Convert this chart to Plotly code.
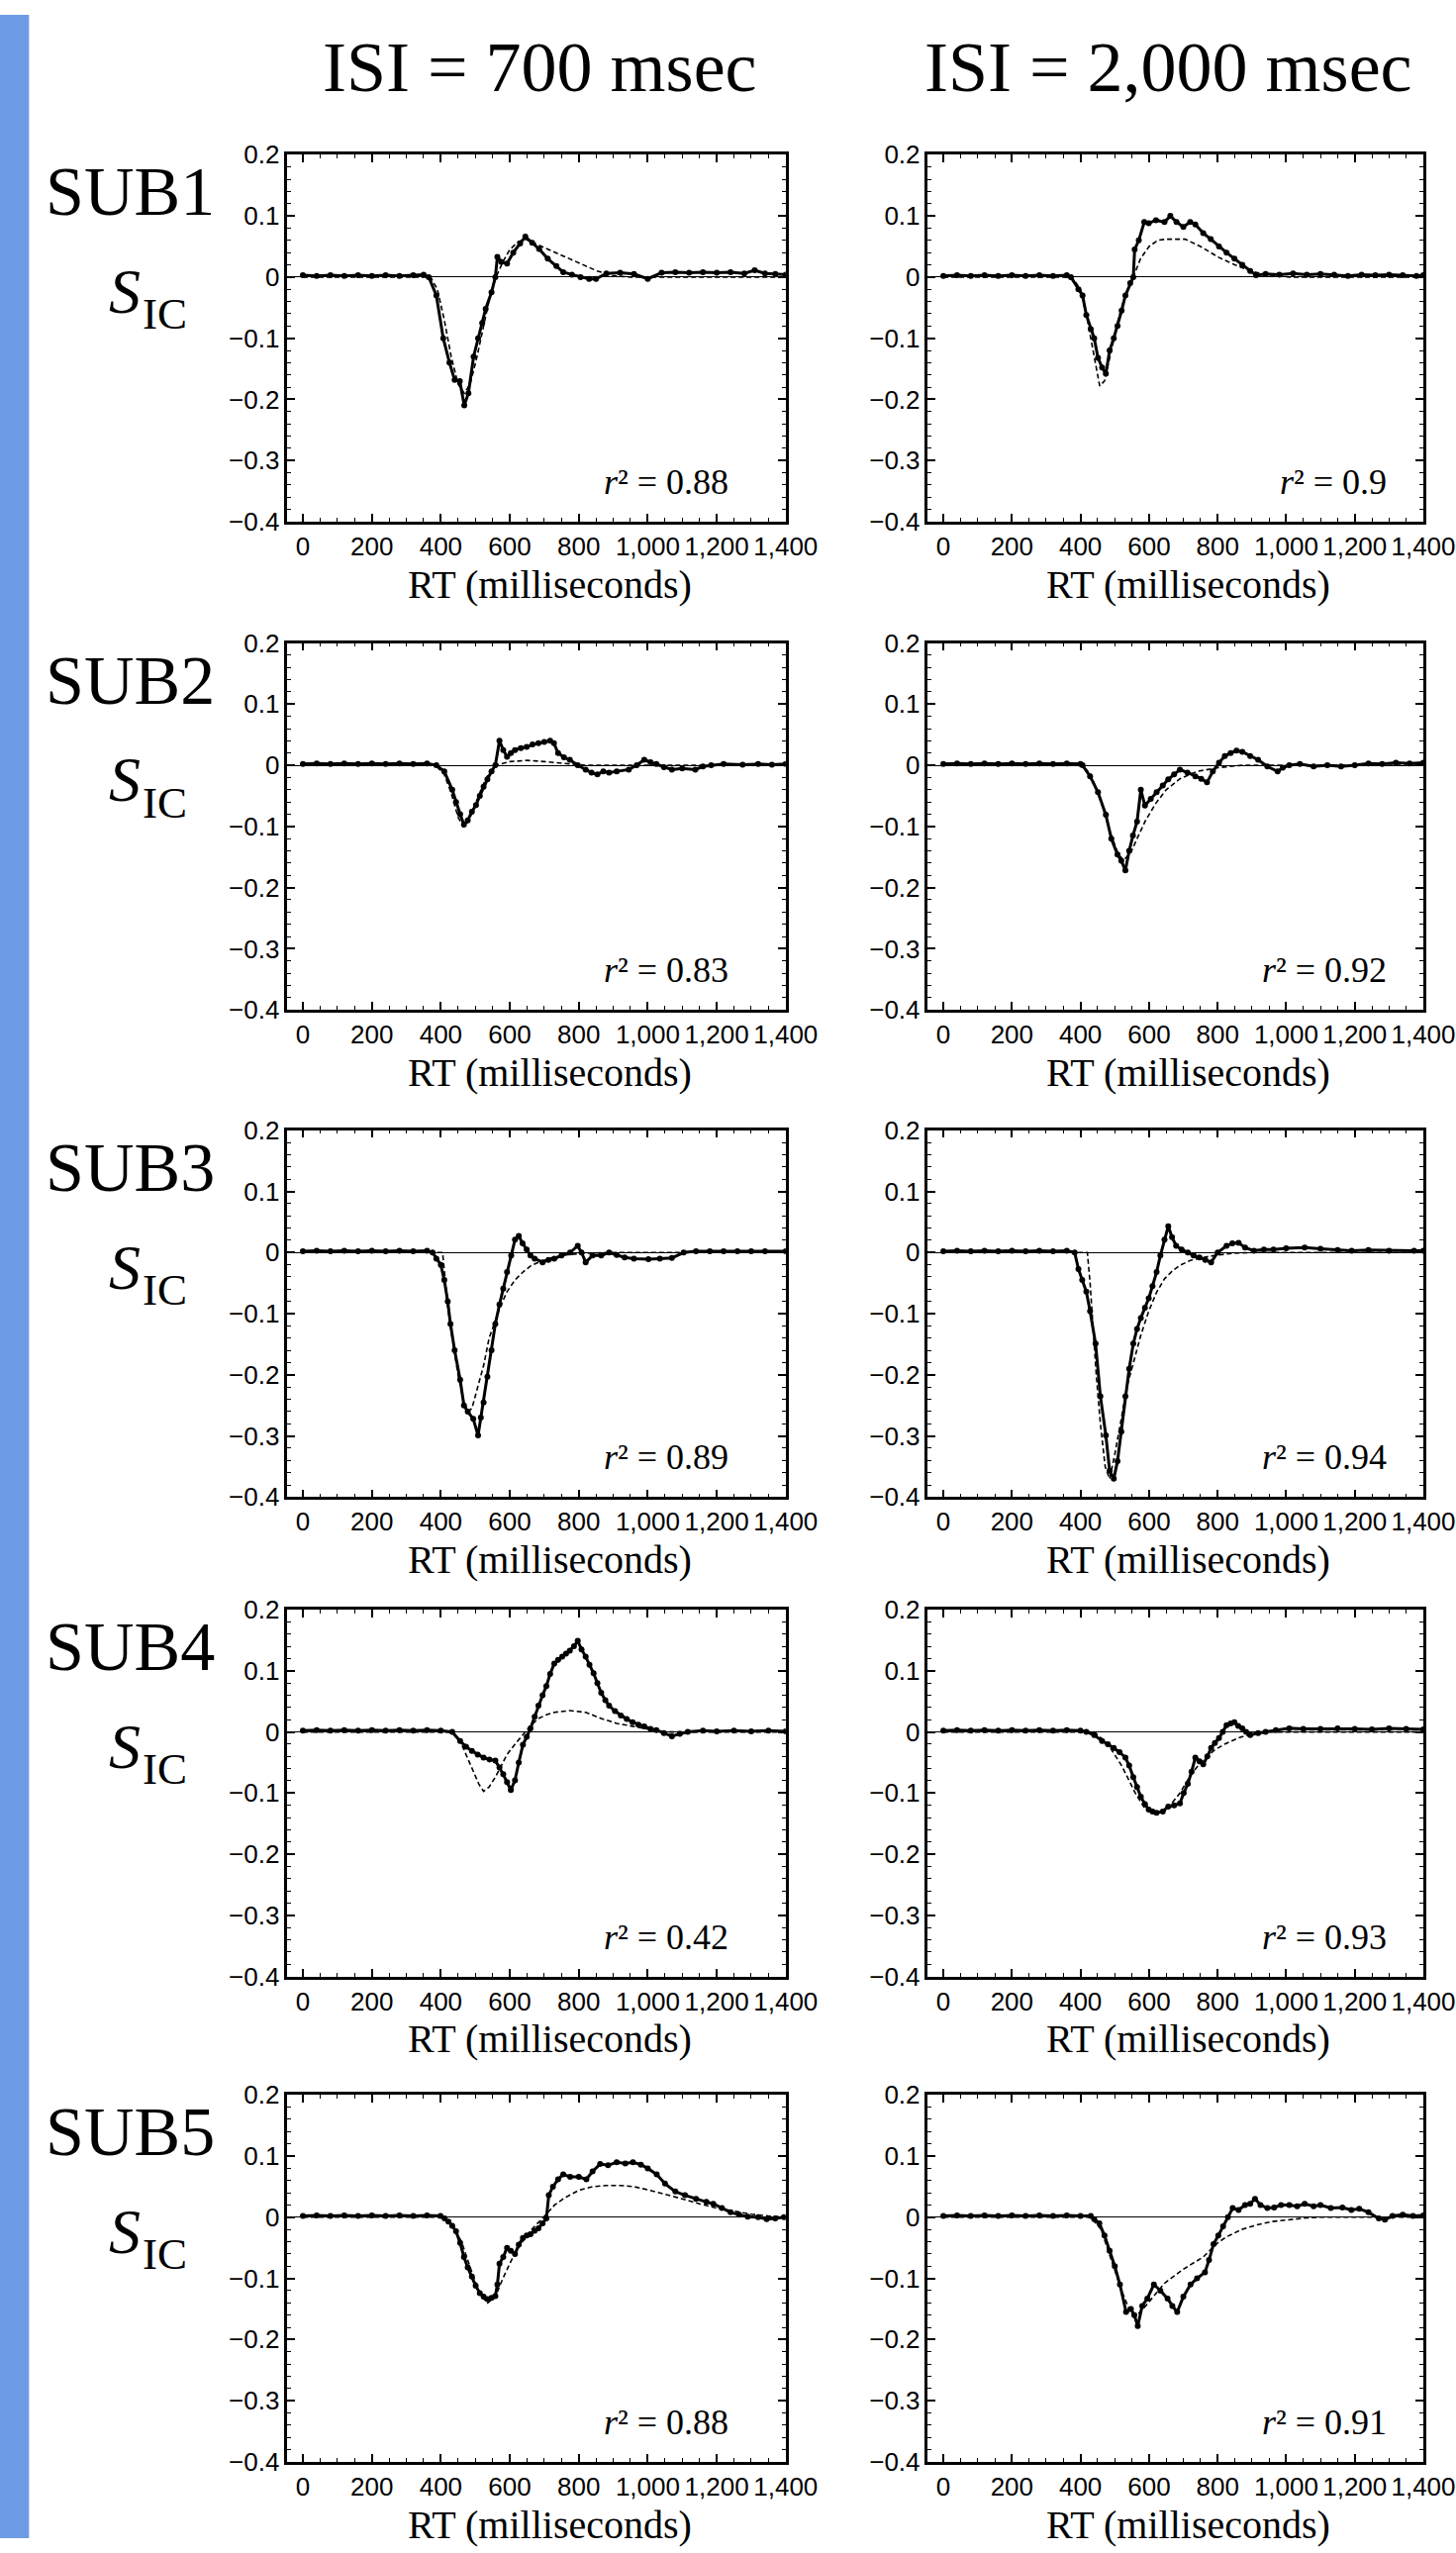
import plotly.graph_objects as go

# ---------------- data (RT in ms, S_IC values) ----------------
SUBJECTS = ["SUB1", "SUB2", "SUB3", "SUB4", "SUB5"]
ISI_TITLES = ["ISI = 700 msec", "ISI = 2,000 msec"]
R2_700 = ["0.88", "0.83", "0.89", "0.42", "0.88"]
R2_2000 = ["0.9", "0.92", "0.94", "0.93", "0.91"]
X_TICKS = [0, 200, 400, 600, 800, 1000, 1200, 1400]
X_TICK_TEXT = ["0", "200", "400", "600", "800", "1,000", "1,200", "1,400"]
Y_TICKS = [-0.4, -0.3, -0.2, -0.1, 0, 0.1, 0.2]
Y_TICK_TEXT = ["\u22120.4", "\u22120.3", "\u22120.2", "\u22120.1", "0", "0.1", "0.2"]

SUB1_700_OBS = [(0,.003),(40,.002),(80,.003),(120,.002),(160,.003),(200,.002),(240,.003),(280,.002),(320,.003),(350,.004),(365,0),(387,-.03),(407,-.1),(425,-.14),(440,-.168),(455,-.17),(468,-.21),(480,-.19),(495,-.13),(508,-.1),(520,-.075),(530,-.052),(547,-.025),(558,0),(564,.033),(575,.025),(592,.022),(610,.04),(630,.055),(645,.066),(665,.056),(685,.046),(710,.03),(735,.018),(755,.008),(780,.004),(805,0),(830,-.003),(850,-.003),(880,.006),(920,.007),(960,.005),(1000,-.003),(1040,.007),(1080,.008),(1120,.007),(1160,.008),(1200,.007),(1240,.008),(1280,.006),(1310,.011),(1340,.006),(1370,.005),(1400,.004)]
SUB1_700_FIT = [(0,0),(370,0),(390,-.02),(410,-.07),(430,-.13),(450,-.175),(468,-.19),(485,-.175),(505,-.13),(525,-.075),(545,-.025),(560,0),(580,.025),(600,.045),(625,.058),(645,.062),(700,.048),(760,.033),(820,.018),(853,.01),(900,.002),(950,0),(1400,0)]

SUB1_2000_OBS = [(0,.002),(40,.003),(80,.002),(120,.003),(160,.002),(200,.003),(240,.002),(280,.003),(320,.002),(360,.003),(372,0),(394,-.02),(406,-.03),(417,-.062),(430,-.085),(440,-.1),(451,-.132),(463,-.148),(474,-.158),(485,-.12),(497,-.1),(508,-.08),(520,-.055),(531,-.03),(545,-.01),(554,0),(558,.045),(570,.06),(586,.09),(599,.088),(620,.093),(645,.09),(662,.1),(680,.09),(700,.082),(720,.09),(735,.086),(758,.072),(780,.062),(804,.05),(826,.04),(849,.03),(872,.02),(895,.01),(912,.003),(940,.005),(980,.004),(1020,.006),(1060,.004),(1100,.005),(1140,.004),(1180,.002),(1220,.004),(1260,.003),(1300,.004),(1340,.003),(1380,.002),(1400,.003)]
SUB1_2000_FIT = [(0,0),(375,0),(400,-.02),(420,-.07),(440,-.13),(456,-.178),(470,-.17),(490,-.12),(510,-.07),(530,-.03),(554,0),(575,.03),(600,.05),(625,.06),(650,.062),(705,.062),(750,.05),(804,.032),(850,.02),(895,.01),(950,.003),(1010,0),(1400,0)]

SUB2_700_OBS = [(0,.002),(40,.003),(80,.002),(120,.003),(160,.002),(200,.003),(240,.002),(280,.003),(320,.002),(360,.003),(387,0),(410,-.01),(433,-.04),(444,-.06),(456,-.08),(467,-.097),(478,-.09),(490,-.076),(502,-.065),(513,-.05),(524,-.035),(535,-.023),(547,-.01),(558,0),(570,.04),(581,.025),(592,.014),(603,.02),(615,.025),(632,.028),(649,.03),(666,.034),(683,.036),(700,.038),(717,.04),(728,.036),(740,.02),(757,.013),(774,.009),(797,0),(820,-.007),(837,-.012),(854,-.015),(871,-.01),(888,-.012),(910,-.01),(945,-.007),(968,0),(990,.009),(1008,.005),(1025,.002),(1047,-.003),(1070,-.007),(1100,-.005),(1138,-.007),(1160,-.002),(1184,0),(1220,.002),(1275,.001),(1320,.002),(1360,.001),(1400,.002)]
SUB2_700_FIT = [(0,0),(385,0),(410,-.015),(430,-.045),(450,-.085),(465,-.1),(480,-.092),(500,-.065),(520,-.035),(540,-.012),(560,0),(600,.006),(650,.008),(700,.006),(760,.003),(820,0),(1400,0)]

SUB2_2000_OBS = [(0,.002),(40,.003),(80,.002),(120,.003),(160,.002),(200,.003),(240,.002),(280,.003),(320,.002),(360,.003),(400,.002),(406,0),(428,-.018),(451,-.044),(474,-.081),(490,-.12),(508,-.146),(519,-.156),(531,-.172),(542,-.14),(553,-.115),(565,-.092),(576,-.04),(588,-.066),(605,-.055),(622,-.044),(640,-.033),(656,-.023),(673,-.015),(690,-.007),(712,-.012),(735,-.018),(752,-.022),(769,-.028),(786,-.01),(804,.004),(821,.015),(838,.02),(855,.024),(872,.022),(895,.015),(918,.009),(945,-.002),(975,-.01),(990,-.004),(1009,0),(1040,.002),(1080,-.002),(1120,0),(1160,-.002),(1200,0),(1240,.003),(1280,.002),(1320,.004),(1360,.003),(1400,.004)]
SUB2_2000_FIT = [(0,0),(405,0),(430,-.015),(460,-.06),(490,-.115),(510,-.145),(525,-.155),(545,-.145),(565,-.12),(590,-.09),(620,-.062),(650,-.04),(690,-.022),(740,-.01),(800,-.004),(870,0),(1400,0)]

SUB3_700_OBS = [(0,.002),(40,.003),(80,.002),(120,.003),(160,.002),(200,.003),(240,.002),(280,.003),(320,.002),(360,.003),(376,0),(387,-.01),(400,-.02),(410,-.045),(420,-.08),(428,-.117),(440,-.16),(456,-.208),(467,-.25),(478,-.26),(494,-.272),(508,-.299),(516,-.27),(524,-.245),(535,-.203),(547,-.16),(558,-.117),(570,-.085),(581,-.059),(592,-.032),(604,-.005),(615,.021),(626,.027),(637,.015),(649,.005),(660,-.005),(672,-.01),(695,-.016),(712,-.012),(729,-.01),(750,-.005),(775,0),(797,.011),(808,0),(820,-.016),(840,-.005),(865,-.005),(888,0),(910,-.004),(933,-.008),(960,-.01),(1002,-.011),(1035,-.01),(1070,-.009),(1104,0),(1140,.002),(1180,.002),(1220,.002),(1260,.002),(1300,.002),(1340,.002),(1400,.002)]
SUB3_700_FIT = [(0,0),(405,0),(412,-.04),(420,-.09),(433,-.14),(450,-.2),(465,-.24),(478,-.26),(490,-.255),(505,-.225),(524,-.185),(540,-.14),(558,-.11),(575,-.085),(592,-.064),(615,-.045),(638,-.032),(660,-.022),(683,-.016),(720,-.009),(760,-.004),(820,-.001),(900,0),(1400,0)]

SUB3_2000_OBS = [(0,.002),(40,.003),(80,.002),(120,.003),(160,.002),(200,.003),(240,.002),(280,.003),(320,.002),(360,.003),(383,0),(394,-.027),(405,-.045),(417,-.064),(428,-.096),(444,-.149),(458,-.235),(474,-.299),(485,-.357),(497,-.37),(508,-.341),(519,-.293),(531,-.235),(542,-.19),(554,-.149),(565,-.125),(576,-.107),(588,-.09),(599,-.075),(610,-.055),(622,-.032),(633,-.005),(645,.021),(656,.043),(667,.025),(679,.011),(695,.005),(713,0),(730,-.005),(747,-.008),(764,-.012),(781,-.016),(800,0),(826,.011),(843,.015),(861,.016),(880,.008),(906,.003),(935,.005),(963,.005),(1000,.007),(1054,.008),(1100,.006),(1150,.004),(1191,.003),(1240,.004),(1300,.003),(1373,.003),(1400,.003)]
SUB3_2000_FIT = [(0,0),(420,0),(428,-.05),(436,-.12),(446,-.2),(458,-.28),(472,-.35),(485,-.37),(500,-.33),(519,-.272),(535,-.22),(554,-.181),(576,-.135),(599,-.096),(622,-.065),(645,-.043),(668,-.03),(690,-.021),(720,-.013),(758,-.008),(800,-.004),(850,-.001),(900,0),(1400,0)]

SUB4_700_OBS = [(0,.002),(40,.003),(80,.002),(120,.003),(160,.002),(200,.003),(240,.002),(280,.003),(320,.002),(360,.003),(400,.002),(433,0),(456,-.015),(473,-.024),(490,-.031),(507,-.037),(524,-.042),(541,-.045),(558,-.047),(570,-.058),(581,-.069),(592,-.082),(603,-.095),(615,-.079),(626,-.05),(638,-.021),(649,-.008),(660,.006),(672,.025),(683,.043),(695,.06),(706,.075),(717,.095),(729,.112),(740,.118),(752,.123),(763,.128),(774,.133),(786,.14),(797,.149),(808,.135),(820,.123),(831,.11),(843,.096),(854,.08),(865,.064),(877,.052),(888,.043),(905,.034),(922,.027),(939,.021),(956,.016),(973,.012),(990,.009),(1008,.005),(1025,.003),(1047,-.002),(1070,-.007),(1093,-.003),(1116,0),(1160,.002),(1200,.001),(1250,.002),(1300,.001),(1350,.002),(1400,.001)]
SUB4_700_FIT = [(0,0),(433,0),(460,-.02),(490,-.058),(510,-.085),(524,-.097),(540,-.09),(558,-.074),(575,-.055),(592,-.037),(615,-.02),(638,-.005),(660,.01),(683,.022),(706,.028),(729,.032),(774,.035),(820,.032),(865,.022),(910,.014),(956,.009),(1000,.004),(1047,0),(1400,0)]

SUB4_2000_OBS = [(0,.002),(40,.003),(80,.002),(120,.003),(160,.002),(200,.003),(240,.002),(280,.003),(320,.002),(360,.003),(400,.002),(417,0),(440,-.005),(463,-.015),(480,-.02),(497,-.026),(514,-.033),(531,-.042),(542,-.055),(554,-.074),(565,-.09),(576,-.106),(588,-.118),(599,-.127),(610,-.13),(622,-.132),(640,-.13),(656,-.122),(673,-.12),(690,-.117),(701,-.1),(713,-.085),(724,-.065),(735,-.042),(747,-.048),(758,-.053),(770,-.04),(781,-.026),(792,-.018),(804,-.01),(815,0),(826,.011),(838,.014),(849,.016),(860,.01),(872,.006),(883,0),(895,-.005),(918,-.002),(940,0),(970,.003),(1009,.006),(1050,.005),(1100,.005),(1150,.006),(1200,.005),(1250,.004),(1300,.006),(1350,.005),(1400,.004)]
SUB4_2000_FIT = [(0,0),(440,0),(480,-.02),(520,-.055),(560,-.1),(590,-.127),(620,-.135),(650,-.128),(690,-.1),(720,-.072),(750,-.05),(790,-.03),(820,-.02),(860,-.01),(900,-.003),(950,0),(1400,0)]

SUB5_700_OBS = [(0,.002),(40,.003),(80,.002),(120,.003),(160,.002),(200,.003),(240,.002),(280,.003),(320,.002),(360,.003),(399,.002),(411,-.002),(422,-.007),(433,-.014),(444,-.023),(456,-.042),(467,-.065),(478,-.082),(490,-.097),(501,-.112),(513,-.124),(524,-.13),(535,-.134),(547,-.132),(558,-.129),(564,-.11),(570,-.076),(581,-.065),(592,-.05),(603,-.055),(615,-.06),(626,-.045),(638,-.034),(649,-.03),(660,-.028),(672,-.022),(683,-.018),(695,-.01),(706,-.002),(713,.036),(725,.05),(740,.062),(755,.07),(775,.066),(800,.066),(822,.062),(840,.075),(862,.087),(885,.085),(910,.09),(935,.088),(957,.09),(980,.086),(1000,.08),(1026,.07),(1050,.055),(1080,.042),(1108,.036),(1140,.03),(1170,.025),(1190,.022),(1215,.015),(1240,.008),(1265,.004),(1290,.001),(1320,0),(1345,-.003),(1370,-.002),(1395,0)]
SUB5_700_FIT = [(0,0),(400,0),(430,-.01),(460,-.04),(490,-.09),(515,-.128),(536,-.14),(558,-.13),(580,-.1),(605,-.07),(630,-.045),(660,-.022),(698,0),(730,.02),(760,.032),(800,.044),(840,.05),(880,.052),(920,.052),(960,.05),(1000,.045),(1050,.038),(1100,.03),(1150,.022),(1200,.015),(1250,.01),(1300,.005),(1350,.002),(1400,0)]

SUB5_2000_OBS = [(0,.002),(40,.003),(80,.002),(120,.003),(160,.002),(200,.003),(240,.002),(280,.003),(320,.002),(360,.003),(400,.002),(430,.002),(440,-.003),(455,-.01),(470,-.03),(485,-.055),(500,-.08),(515,-.11),(533,-.155),(547,-.15),(557,-.16),(567,-.178),(580,-.145),(595,-.133),(614,-.11),(633,-.12),(654,-.133),(668,-.145),(682,-.155),(700,-.13),(721,-.11),(740,-.1),(763,-.09),(775,-.07),(788,-.044),(802,-.03),(816,-.015),(830,0),(844,.015),(861,.012),(880,.02),(895,.022),(909,.03),(925,.02),(945,.015),(965,.016),(985,.02),(1009,.02),(1032,.018),(1054,.022),(1080,.018),(1100,.02),(1130,.015),(1164,.016),(1190,.012),(1213,.014),(1240,.008),(1270,-.002),(1288,-.004),(1310,.002),(1340,.004),(1370,.002),(1400,.003)]
SUB5_2000_FIT = [(0,0),(430,0),(460,-.02),(490,-.07),(520,-.12),(547,-.158),(565,-.16),(590,-.145),(620,-.125),(645,-.108),(700,-.085),(758,-.065),(800,-.042),(826,-.032),(870,-.02),(918,-.012),(960,-.007),(1009,-.004),(1060,-.001),(1100,0),(1400,0)]

PANELS = [
    [(SUB1_700_OBS, SUB1_700_FIT), (SUB1_2000_OBS, SUB1_2000_FIT)],
    [(SUB2_700_OBS, SUB2_700_FIT), (SUB2_2000_OBS, SUB2_2000_FIT)],
    [(SUB3_700_OBS, SUB3_700_FIT), (SUB3_2000_OBS, SUB3_2000_FIT)],
    [(SUB4_700_OBS, SUB4_700_FIT), (SUB4_2000_OBS, SUB4_2000_FIT)],
    [(SUB5_700_OBS, SUB5_700_FIT), (SUB5_2000_OBS, SUB5_2000_FIT)],
]

# ---------------- layout geometry (pixels) ----------------
W, H = 1471, 2579
ROW_TOPS = [143, 642, 1140, 1630, 2126]
PANEL_H = 375
COL_LEFT = [297, 959]
COL_RIGHT = [812, 1471]
SERIF = "Liberation Serif"
SANS = "Liberation Sans"


def px_x(p):
    return p / W


def px_y(p):
    return 1 - p / H


fig = go.Figure()
layout = dict(
    width=W, height=H, autosize=False,
    margin=dict(l=0, r=0, t=0, b=0, pad=0),
    paper_bgcolor="white", plot_bgcolor="white",
    showlegend=False,
    font=dict(family=SANS, color="black"),
)
annotations = []


def note(text, x, y, size, xanchor="center", xref="paper", yref="paper"):
    annotations.append(dict(
        text=text, xref=xref, yref=yref, x=x, y=y,
        xanchor=xanchor, yanchor="middle", showarrow=False,
        font=dict(family=SERIF, size=size, color="black")))


for r in range(5):
    for c in range(2):
        k = r * 2 + c + 1
        xa = "x" if k == 1 else f"x{k}"
        ya = "y" if k == 1 else f"y{k}"
        obs, fit = PANELS[r][c]
        fig.add_trace(go.Scatter(
            x=[p[0] for p in fit], y=[p[1] for p in fit], mode="lines",
            line=dict(color="black", width=1.6, dash="5px,3px"),
            xaxis=xa, yaxis=ya, hoverinfo="skip"))
        fig.add_trace(go.Scatter(
            x=[p[0] for p in obs], y=[p[1] for p in obs], mode="lines+markers",
            line=dict(color="black", width=3),
            marker=dict(size=6, color="black"),
            xaxis=xa, yaxis=ya, hoverinfo="skip"))
        top = ROW_TOPS[r]
        bottom = top + PANEL_H
        common = dict(
            showline=True, linecolor="black", linewidth=2.5, mirror="ticks",
            ticks="inside", ticklen=8, tickwidth=1.5, tickcolor="black",
            showgrid=False, tickfont=dict(family=SANS, size=26, color="black"),
        )
        layout["xaxis" + ("" if k == 1 else str(k))] = dict(
            domain=[px_x(COL_LEFT[c]), px_x(COL_RIGHT[c])], anchor=ya,
            range=[-45, 1400], tickmode="array", tickvals=X_TICKS, ticktext=X_TICK_TEXT,
            tickangle=0, zeroline=False, ticklabeloverflow="allow",
            minor=dict(ticks="inside", ticklen=4, tickwidth=1, tickcolor="black",
                       tick0=0, dtick=50, showgrid=False),
            **common)
        layout["yaxis" + ("" if k == 1 else str(k))] = dict(
            domain=[px_y(bottom), px_y(top)], anchor=xa,
            range=[-0.4, 0.2], tickmode="array", tickvals=Y_TICKS, ticktext=Y_TICK_TEXT,
            tickangle=0, zeroline=True, zerolinecolor="black", zerolinewidth=1.3,
            minor=dict(ticks="inside", ticklen=4, tickwidth=1, tickcolor="black",
                       tick0=0, dtick=0.02, showgrid=False),
            **common)
        # r^2 label
        r2 = R2_700[r] if c == 0 else R2_2000[r]
        note(f"<i>r</i>\u00b2 = {r2}", 1240 if c == 0 else 1300, -0.335, 36,
             xanchor="right", xref=xa, yref=ya)
        # x axis title
        note("RT (milliseconds)", 715, px_y(bottom + 64), 40, xref=xa)
    # row labels
    top = ROW_TOPS[r]
    note(SUBJECTS[r], px_x(224), px_y(top + 38), 70, xanchor="right")
    note("<i>S</i>", px_x(147), px_y(top + 140), 64, xanchor="right")
    note("IC", px_x(145), px_y(top + 163), 45, xanchor="left")

# column titles
for c, cx in enumerate([558, 1208]):
    note(ISI_TITLES[c], px_x(cx), px_y(54), 72)

layout["annotations"] = annotations
layout["shapes"] = [dict(type="rect", xref="paper", yref="paper",
                         x0=0, x1=30 / W, y0=0, y1=1,
                         fillcolor="#6d9be6", line=dict(width=0), layer="below")]
fig.update_layout(**layout)
fig.write_html("out.html")
